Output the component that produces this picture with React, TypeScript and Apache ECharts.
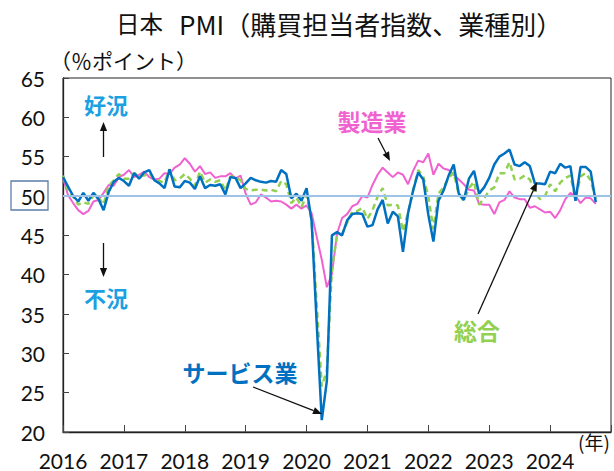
import React, { useEffect, useRef } from "react";
import * as echarts from "echarts";

const startYear = 2016;
const yearTicks = [2016, 2017, 2018, 2019, 2020, 2021, 2022, 2023, 2024];

// Monthly values, Jan 2016 - Oct 2024
const services = [
  52.4, 51.2, 50.0, 49.3, 50.4, 49.4, 50.4, 49.6, 48.2, 50.5, 51.8, 52.3,
  51.9, 51.3, 52.9, 52.2, 53.0, 53.3, 52.0, 51.6, 51.0, 53.4, 51.2, 51.1,
  51.9, 51.7, 50.9, 52.5, 51.0, 51.4, 51.3, 51.5, 50.2, 52.4, 52.3, 51.0,
  51.6, 52.3, 52.0, 51.8, 51.7, 51.9, 51.8, 53.3, 52.8, 49.7, 50.3, 49.4,
  51.0, 46.8, 33.8, 21.5, 26.5, 45.0, 45.4, 45.0, 46.9, 47.7, 47.8, 47.7,
  46.1, 46.3, 48.3, 49.5, 46.5, 48.0, 47.4, 42.9, 47.8, 50.7, 53.0, 52.1,
  47.6, 44.2, 49.4, 50.7, 52.6, 54.0, 50.3, 49.5, 52.2, 53.2, 50.3, 51.1,
  52.3, 54.0, 55.0, 55.4, 55.9, 54.0, 53.8, 54.3, 53.8, 51.6, 51.6, 51.5,
  53.1, 52.9, 54.1, 53.6, 53.8, 49.4, 53.7, 53.7, 53.1, 49.2,
];
const manufacturing = [
  52.3, 50.1, 49.1, 48.2, 47.7, 48.1, 49.3, 49.5, 50.4, 51.4, 51.3, 52.4,
  52.7, 53.3, 52.4, 52.7, 53.1, 52.4, 52.1, 52.2, 52.9, 52.8, 53.6, 54.0,
  54.8, 54.1, 53.1, 53.8, 52.8, 53.0, 52.3, 52.5, 52.5, 52.9, 52.2, 52.6,
  50.3, 48.9, 49.2, 50.2, 49.8, 49.3, 49.4, 49.3, 48.9, 48.4, 48.9, 48.4,
  48.8, 47.8, 44.8, 41.9, 38.4, 40.1, 45.2, 47.2, 47.7, 48.7, 49.0, 50.0,
  49.8, 51.4, 52.7, 53.6, 53.0, 52.4, 53.0, 52.7, 51.5, 53.2, 54.5, 54.3,
  55.4, 52.7, 54.1, 53.5, 53.3, 52.7, 52.1, 51.5, 50.8, 50.7, 49.0, 48.9,
  48.9, 47.7, 49.2, 49.5, 50.6, 49.8, 49.6, 49.6, 48.5, 48.7, 48.3, 47.9,
  48.0, 47.2, 48.2, 49.6, 50.4, 50.0, 49.1, 49.8, 49.7, 49.0,
];
const composite = [
  52.6, 50.7, 49.9, 48.9, 49.2, 49.0, 50.1, 49.8, 48.9, 51.3, 52.0, 52.8,
  52.2, 52.2, 52.9, 52.6, 52.6, 52.9, 52.2, 51.9, 51.7, 53.4, 52.0, 52.2,
  52.8, 52.2, 51.3, 53.1, 51.7, 52.1, 51.8, 52.0, 50.7, 52.5, 52.4, 52.0,
  50.9, 50.7, 50.8, 50.8, 50.7, 50.8, 50.6, 51.9, 51.5, 49.1, 49.8, 48.6,
  50.1, 47.0, 36.2, 25.8, 27.8, 40.8, 44.9, 45.2, 46.6, 48.0, 48.1, 48.5,
  47.1, 48.2, 49.9, 51.0, 48.8, 48.9, 48.8, 45.5, 47.9, 50.7, 53.3, 52.5,
  49.9, 45.8, 50.3, 51.1, 52.3, 53.0, 50.2, 49.4, 51.0, 51.8, 48.9, 49.7,
  50.7, 51.1, 52.9, 52.9, 54.3, 52.1, 52.2, 52.6, 52.1, 50.5, 49.6, 50.0,
  51.5, 50.6, 51.7, 52.3, 52.6, 49.7, 52.5, 52.9, 52.0, 49.6,
];

const toPoints = (arr: number[]) => arr.map((v, i) => [startYear + i / 12, v]);

function arrow(x1: number, y1: number, x2: number, y2: number) {
  const dx = x2 - x1, dy = y2 - y1;
  const len = Math.sqrt(dx * dx + dy * dy);
  const ux = dx / len, uy = dy / len;
  const hl = 9, hw = 3.6;
  const bx = x2 - ux * hl, by = y2 - uy * hl;
  return [
    { type: "line", shape: { x1, y1, x2: bx, y2: by }, style: { stroke: "#111", lineWidth: 1.3 }, z: 100 },
    {
      type: "polygon",
      shape: { points: [[x2, y2], [bx - uy * hw, by + ux * hw], [bx + uy * hw, by - ux * hw]] },
      style: { fill: "#111" },
      z: 100,
    },
  ];
}

function label(text: string, x: number, y: number, color: string, size: number) {
  return {
    type: "text",
    x,
    y,
    z: 100,
    style: {
      text,
      fill: color,
      font: `bold ${size}px 'Noto Sans CJK JP', sans-serif`,
      textAlign: "center",
      textVerticalAlign: "middle",
      align: "center",
      verticalAlign: "middle",
    },
  };
}

function plainText(text: string, x: number, y: number, size: number, align: string) {
  return {
    type: "text",
    x,
    y,
    style: {
      text,
      fill: "#111",
      font: `${size}px 'Noto Sans CJK JP', sans-serif`,
      textAlign: align,
      textVerticalAlign: "middle",
      align,
      verticalAlign: "middle",
    },
  };
}

export default function App() {
  const ref = useRef<HTMLDivElement>(null);
  useEffect(() => {
    if (!ref.current) return;
    const chart = echarts.init(ref.current, undefined, { renderer: "svg" });
    const numFont = "Lato, 'Noto Sans', sans-serif";
    chart.setOption({
      animation: false,
      backgroundColor: "#fff",
      grid: {
        left: 63,
        top: 78,
        bottom: 39,
        right: -6,
        show: true,
        borderColor: "#222",
        borderWidth: 1,
        backgroundColor: "transparent",
      },
      xAxis: {
        type: "value",
        min: 2016,
        max: 2025,
        interval: 1,
        axisLine: { show: true, lineStyle: { color: "#222", width: 1.3 } },
        axisTick: { show: true, inside: true, length: 7, lineStyle: { color: "#444" } },
        splitLine: { show: false },
        axisLabel: {
          margin: 19,
          color: "#111",
          fontSize: 21,
          lineHeight: 18,
          fontFamily: numFont,
          formatter: (v: number) => (yearTicks.includes(Math.round(v)) ? String(Math.round(v)) : ""),
        },
      },
      yAxis: {
        type: "value",
        min: 20,
        max: 65,
        interval: 5,
        axisLine: { show: true, lineStyle: { color: "#222", width: 1.3 } },
        axisTick: { show: true, inside: true, length: 6, lineStyle: { color: "#444" } },
        splitLine: { show: false },
        axisLabel: {
          margin: 18,
          color: "#111",
          fontSize: 21,
          fontFamily: numFont,
        },
      },
      series: [
        {
          name: "製造業",
          type: "line",
          data: toPoints(manufacturing),
          showSymbol: false,
          symbol: "none",
          lineStyle: { color: "#f062d0", width: 2 },
          markLine: {
            silent: true,
            symbol: "none",
            label: { show: false },
            lineStyle: { color: "#9dc3e6", width: 2, type: "solid" },
            data: [{ yAxis: 50 }],
          },
          z: 2,
        },
        {
          name: "総合",
          type: "line",
          data: toPoints(composite),
          showSymbol: false,
          symbol: "none",
          lineStyle: { color: "#92d050", width: 2.5, type: [6, 4] },
          z: 3,
        },
        {
          name: "サービス業",
          type: "line",
          data: toPoints(services),
          showSymbol: false,
          symbol: "none",
          lineStyle: { color: "#0070c0", width: 2.5 },
          z: 4,
        },
      ],
      graphic: [
        plainText("日本", 116, 23, 23.5, "left"),
        plainText("PMI（購買担当者指数、業種別）", 179, 23, 26, "left"),
        plainText("（％ポイント）", 50, 60, 21, "left"),
        plainText("(年)", 578, 441, 19, "left"),
        {
          type: "rect",
          shape: { x: 11, y: 181, width: 37, height: 29 },
          style: { fill: "none", stroke: "#5b7fa8", lineWidth: 1.3 },
        },
        label("好況", 106, 104, "#1ba1e2", 22),
        ...arrow(103.5, 157, 103.5, 122),
        label("不況", 106, 297, "#1ba1e2", 22),
        ...arrow(103.5, 243, 103.5, 277),
        label("製造業", 372, 121, "#f062d0", 23),
        ...arrow(378, 138, 390, 161),
        label("総合", 477, 330, "#92d050", 23),
        ...arrow(478, 314, 537, 182),
        label("サービス業", 240, 372, "#0070c0", 23),
        ...arrow(253, 387, 322, 414),
      ],
    });
    return () => chart.dispose();
  }, []);
  return (
    <div
      ref={ref}
      style={{ position: "fixed", left: 0, top: 0, width: 614, height: 471, background: "#fff" }}
    />
  );
}
